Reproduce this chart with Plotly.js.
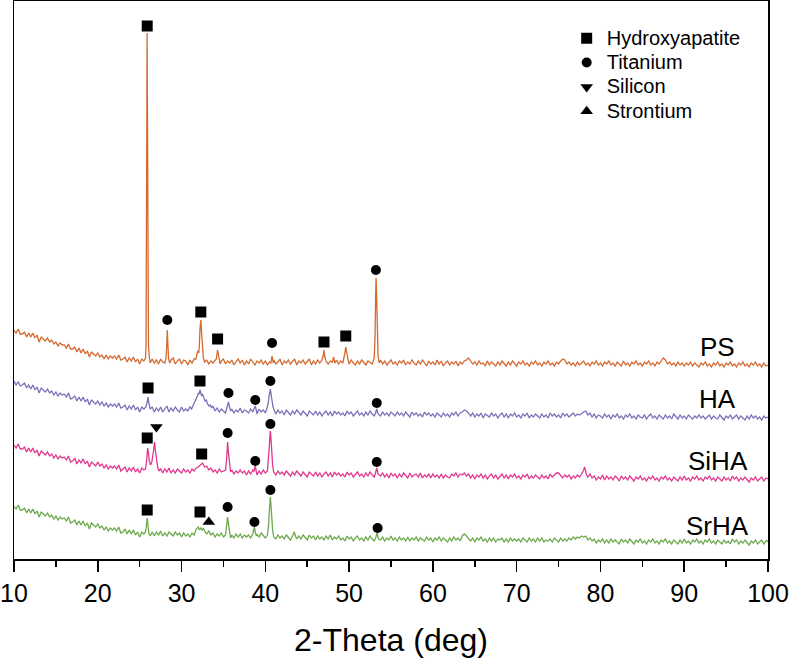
<!DOCTYPE html>
<html>
<head>
<meta charset="utf-8">
<script src="https://cdn.plot.ly/plotly-3.0.1.min.js"></script>
<style>html,body{margin:0;padding:0;background:#fff;}#chart{width:792px;height:662px;}</style>
</head>
<body>
<div id="chart"></div>
<script>
// ---------- DATA (intensity in arbitrary units, patterns offset-stacked) ----------
const seriesNames = ['PS', 'HA', 'SiHA', 'SrHA'];

const psPoints = [
[10,227],[10.25,224],[10.5,228],[10.75,223],[11,223],[11.25,225],[11.5,220],[11.75,224],[12,220],[12.25,224],[12.5,219],[12.75,222],
[13,215],[13.25,220],[13.5,218],[13.75,216],[14,219],[14.25,215],[14.5,217],[14.75,213],[15,215],[15.25,211],[15.5,214],[15.75,212],
[16,212],[16.25,209],[16.5,213],[16.75,208],[17,208],[17.25,210],[17.5,205],[17.75,209],[18,204],[18.25,208],[18.5,203],[18.75,206],
[19,200],[19.25,205],[19.5,203],[19.75,201],[20,204],[20.25,200],[20.5,202],[20.75,198],[21,202],[21.25,198],[21.5,201],[21.75,199],
[22,201],[22.25,198],[22.5,202],[22.75,197],[23,198],[23.25,200],[23.5,195],[23.75,199],[24,196],[24.25,200],[24.5,195],[24.75,198],
[25,193],[25.25,198],[25.5,196],
[25.6,197],[25.7,199],[25.76,212],[25.82,290],[25.86,450],[25.89,524],[25.93,450],[25.98,290],[26.05,212],[26.15,200],
[26.25,194],[26.5,198],[26.75,194],[27,197],[27.25,193],[27.5,198],[27.75,195],[28,194],
[28.15,199],[28.23,212],[28.3,227],[28.37,212],[28.45,198],[28.6,194],[28.75,197],
[29,199],[29.25,193],[29.5,196],[29.75,198],[30,193],[30.25,197],[30.5,196],[30.75,192],[31,197],[31.25,194],[31.5,198],
[31.7,198],[31.85,203],[31.95,206],[32.05,204],[32.12,211],[32.2,228],[32.3,237],[32.38,226],[32.47,208],[32.6,199],[32.75,195],
[33,197],[33.25,193],[33.5,196],[33.75,194],[34,197],[34.15,198],[34.3,207],[34.45,197],[34.6,193],[34.75,196],
[35,198],[35.25,193],[35.5,196],[35.75,194],[36,197],[36.25,192],[36.5,195],[36.75,198],[37,194],[37.25,197],[37.5,192],[37.75,196],
[38,193],[38.25,198],[38.5,195],[38.75,192],[39,196],[39.25,194],[39.5,197],[39.75,193],[40,196],[40.25,192],[40.5,195],
[40.65,194],[40.8,201],[40.95,194],[41,197],[41.25,193],[41.5,195],[41.75,198],[42,192],[42.25,196],[42.5,194],[42.75,197],
[43,193],[43.25,195],[43.5,198],[43.75,192],[44,196],[44.25,194],[44.5,197],[44.75,193],[45,195],[45.25,198],[45.5,192],[45.75,196],
[46,193],[46.25,197],[46.5,194],[46.75,197],[46.9,201],[47.0,207],[47.1,200],[47.25,196],[47.5,193],[47.75,196],
[48,195],[48.15,200],[48.3,194],[48.5,197],[48.75,193],[49,196],[49.25,194],[49.4,199],[49.5,204],[49.6,210],[49.7,204],[49.85,198],
[50,193],[50.25,197],[50.5,194],[50.75,192],[51,196],[51.25,193],[51.5,197],[51.75,194],[52,192],[52.25,196],[52.5,194],[52.75,193],
[53.0,199],[53.1,222],[53.17,262],[53.22,279],[53.28,262],[53.36,220],[53.46,200],[53.6,194],[53.75,197],
[54,193],[54.25,196],[54.5,192],[54.75,195],[55,197],[55.25,193],[55.5,195],[55.75,192],[56,196],[56.25,194],[56.5,197],[56.75,192],
[57,195],[57.25,193],[57.5,197],[57.75,194],[58,192],[58.25,196],[58.5,193],[58.75,197],[59,194],[59.25,191],[59.5,196],[59.75,193],
[60,195],[60.25,192],[60.5,197],[60.75,193],[61,196],[61.25,191],[61.5,194],[61.75,196],[62,192],[62.25,195],[62.5,193],[62.75,196],
[63,191],[63.25,195],[63.5,193],[63.75,196],[64,197],[64.25,199],[64.5,196],[64.75,193],[65,195],[65.25,192],[65.5,196],[65.75,193],
[66,194],[66.25,191],[66.5,196],[66.75,192],[67,195],[67.25,193],[67.5,191],[67.75,195],[68,192],[68.25,196],[68.5,193],[68.75,191],
[69,195],[69.25,192],[69.5,196],[69.75,193],[70,191],[70.25,195],[70.5,193],[70.75,196],[71,192],[71.25,194],[71.5,191],[71.75,195],
[72,193],[72.25,196],[72.5,192],[72.75,194],[73,191],[73.25,195],[73.5,193],[73.75,196],[74,192],[74.25,194],[74.5,191],[74.75,195],
[75,193],[75.25,196],[75.5,198],[75.75,197],[76,193],[76.25,195],[76.5,192],[76.75,194],[77,191],[77.25,195],[77.5,192],[77.75,194],
[78,196],[78.25,192],[78.5,194],[78.75,191],[79,195],[79.25,193],[79.5,196],[79.75,192],[80,194],[80.25,191],[80.5,195],[80.75,193],
[81,196],[81.25,192],[81.5,194],[81.75,191],[82,195],[82.25,193],[82.5,191],[82.75,196],[83,192],[83.25,194],[83.5,191],[83.75,195],
[84,193],[84.25,196],[84.5,192],[84.75,194],[85,191],[85.25,195],[85.5,193],[85.75,196],[86,192],[86.25,194],[86.5,191],[86.75,195],
[87,193],[87.25,196],[87.5,199],[87.75,197],[88,193],[88.25,195],[88.5,192],[88.75,194],[89,191],[89.25,195],[89.5,192],[89.75,194],
[90,191],[90.25,194],[90.5,192],[90.75,195],[91,191],[91.25,194],[91.5,192],[91.75,190],[92,194],[92.25,192],[92.5,195],[92.75,191],
[93,193],[93.25,190],[93.5,194],[93.75,192],[94,195],[94.25,191],[94.5,193],[94.75,190],[95,194],[95.25,192],[95.5,195],[95.75,191],
[96,193],[96.25,190],[96.5,194],[96.75,192],[97,195],[97.25,191],[97.5,193],[97.75,190],[98,194],[98.25,192],[98.5,195],[98.75,191],
[99,193],[99.25,190],[99.5,194],[99.75,191],[100,192]];

const haPoints = [
[10,176],[10.25,172],[10.5,175],[10.75,171],[11,172],[11.25,174],[11.5,169],[11.75,172],[12,168],[12.25,172],[12.5,167],[12.75,170],
[13,164],[13.25,169],[13.5,167],[13.75,165],[14,168],[14.25,164],[14.5,166],[14.75,162],[15,165],[15.25,161],[15.5,164],[15.75,162],
[16,163],[16.25,160],[16.5,164],[16.75,158],[17,159],[17.25,161],[17.5,156],[17.75,160],[18,156],[18.25,160],[18.5,155],[18.75,158],
[19,152],[19.25,157],[19.5,155],[19.75,153],[20,156],[20.25,152],[20.5,155],[20.75,151],[21,154],[21.25,150],[21.5,153],[21.75,151],
[22,153],[22.25,150],[22.5,154],[22.75,149],[23,150],[23.25,152],[23.5,147],[23.75,151],[24,148],[24.25,152],[24.5,147],[24.75,150],
[25,145],[25.25,150],[25.5,148],
[25.75,150],[25.9,155],[26.0,160],[26.1,154],[26.25,148],[26.5,150],[26.75,145],
[27,149],[27.25,146],[27.5,150],[27.75,145],[28,148],[28.25,151],[28.5,145],[28.75,149],[29,146],[29.25,150],[29.5,147],[29.75,145],
[30,150],[30.25,146],[30.5,148],[30.75,146],
[31,150],[31.2,148],[31.4,152],[31.6,155],[31.75,158],[31.9,161],[32.0,164],[32.1,163],[32.2,167],[32.3,164],[32.4,161],[32.5,163],
[32.65,158],[32.8,156],[32.95,157],[33.1,153],[33.3,151],[33.45,152],[33.6,149],[33.75,151],
[34,146],[34.25,149],[34.5,145],[34.75,148],[35,146],[35.25,144],[35.4,149],[35.5,152],[35.6,155],[35.7,151],[35.85,146],
[36,148],[36.25,144],[36.5,147],[36.75,145],[37,149],[37.25,144],[37.5,147],[37.75,146],[38,144],[38.25,148],[38.5,145],
[38.65,148],[38.8,151],[38.95,146],[39,143],[39.25,148],[39.5,145],[39.75,147],
[40,144],[40.2,149],[40.35,154],[40.45,161],[40.55,166],[40.6,168],[40.68,163],[40.78,157],[40.9,151],[41.05,147],
[41.25,143],[41.5,147],[41.75,144],[42,146],[42.25,142],[42.5,147],[42.75,144],[43,142],[43.25,146],[43.5,143],[43.75,147],
[44,145],[44.25,142],[44.5,146],[44.75,143],[45,141],[45.25,146],[45.5,144],[45.75,142],[46,146],[46.25,142],[46.5,145],[46.75,141],
[47,144],[47.25,146],[47.5,142],[47.75,145],[48,141],[48.25,146],[48.5,143],[48.75,145],[49,142],[49.25,144],[49.5,141],[49.75,146],
[50,143],[50.25,145],[50.5,141],[50.75,144],[51,146],[51.25,142],[51.5,144],[51.75,141],[52,145],[52.25,142],[52.5,146],[52.75,143],
[53,141],[53.15,144],[53.3,148],[53.45,143],[53.75,141],
[54,145],[54.25,142],[54.5,144],[54.75,141],[55,145],[55.25,143],[55.5,141],[55.75,145],[56,142],[56.25,144],[56.5,141],[56.75,145],
[57,143],[57.25,140],[57.5,145],[57.75,142],[58,144],[58.25,141],[58.5,143],[58.75,140],[59,145],[59.25,142],[59.5,144],[59.75,141],
[60,143],[60.25,140],[60.5,144],[60.75,142],[61,140],[61.25,144],[61.5,141],[61.75,143],[62,140],[62.25,144],[62.5,142],[62.75,145],
[63,141],[63.25,144],[63.5,145],[63.75,147],[64,146],[64.25,144],[64.5,141],[64.75,144],[65,140],[65.25,143],[65.5,141],[65.75,144],
[66,139],[66.25,143],[66.5,141],[66.75,140],[67,144],[67.25,141],[67.5,143],[67.75,139],[68,142],[68.25,144],[68.5,140],[68.75,143],
[69,139],[69.25,143],[69.5,141],[69.75,144],[70,140],[70.25,142],[70.5,139],[70.75,143],[71,141],[71.25,144],[71.5,139],[71.75,142],
[72,140],[72.25,143],[72.5,141],[72.75,139],[73,143],[73.25,140],[73.5,142],[73.75,139],[74,144],[74.25,141],[74.5,143],[74.75,140],
[75,142],[75.25,139],[75.5,144],[75.75,141],[76,143],[76.25,140],[76.5,142],[76.75,144],[77,141],[77.25,143],[77.5,142],[77.75,144],
[78,145],[78.25,146],[78.5,142],[78.75,144],[79,140],[79.25,143],[79.5,139],[79.75,142],[80,141],[80.25,139],[80.5,143],[80.75,140],
[81,142],[81.25,138],[81.5,142],[81.75,140],[82,143],[82.25,139],[82.5,141],[82.75,138],[83,142],[83.25,140],[83.5,143],[83.75,139],
[84,141],[84.25,138],[84.5,142],[84.75,140],[85,139],[85.25,142],[85.5,138],[85.75,141],[86,143],[86.25,139],[86.5,141],[86.75,138],
[87,142],[87.25,140],[87.5,138],[87.75,142],[88,139],[88.25,141],[88.5,138],[88.75,143],[89,140],[89.25,138],[89.5,142],[89.75,139],
[90,141],[90.25,138],[90.5,142],[90.75,140],[91,138],[91.25,141],[91.5,139],[91.75,142],[92,139],[92.25,141],[92.5,138],[92.75,140],
[93,142],[93.25,138],[93.5,141],[93.75,139],[94,138],[94.25,142],[94.5,140],[94.75,137],[95,141],[95.25,139],[95.5,142],[95.75,138],
[96,140],[96.25,142],[96.5,138],[96.75,141],[97,139],[97.25,137],[97.5,141],[97.75,138],[98,142],[98.25,139],[98.5,141],[98.75,138],
[99,140],[99.25,137],[99.5,141],[99.75,139],[100,140]];

const sihaPoints = [
[10,112],[10.25,109],[10.5,113],[10.75,108],[11,108],[11.25,110],[11.5,105],[11.75,109],[12,105],[12.25,109],[12.5,104],[12.75,107],
[13,101],[13.25,106],[13.5,104],[13.75,102],[14,105],[14.25,101],[14.5,103],[14.75,99],[15,102],[15.25,98],[15.5,101],[15.75,99],
[16,100],[16.25,97],[16.5,101],[16.75,95],[17,96],[17.25,99],[17.5,93],[17.75,97],[18,94],[18.25,98],[18.5,93],[18.75,96],
[19,90],[19.25,95],[19.5,93],[19.75,91],[20,95],[20.25,91],[20.5,93],[20.75,89],[21,92],[21.25,88],[21.5,91],[21.75,89],
[22,91],[22.25,88],[22.5,92],[22.75,86],[23,88],[23.25,90],[23.5,85],[23.75,89],[24,86],[24.25,90],[24.5,85],[24.75,88],
[25,84],[25.25,89],[25.5,87],
[25.7,88],[25.85,98],[25.95,109],[26.05,104],[26.15,96],[26.3,92],[26.45,95],[26.6,103],[26.72,112],[26.78,115],[26.88,106],[27.0,96],[27.15,90],[27.3,86],
[27.5,88],[27.75,84],[28,88],[28.25,85],[28.5,89],[28.75,84],[29,87],[29.25,84],[29.5,88],[29.75,86],
[30,84],[30.25,88],[30.5,85],[30.75,87],[31,84],[31.25,88],[31.5,86],[31.75,89],[32,90],[32.25,92],[32.5,94],[32.75,90],
[33,91],[33.25,87],[33.5,89],[33.75,85],[34,87],[34.25,84],[34.5,88],[34.75,85],[35,86],
[35.25,87],[35.4,100],[35.5,115],[35.6,104],[35.72,90],[35.85,85],
[36,87],[36.25,83],[36.5,86],[36.75,84],[37,87],[37.25,84],[37.5,86],[37.75,82],[38,86],[38.25,83],[38.5,87],
[38.65,86],[38.8,91],[38.95,85],[39,82],[39.25,86],[39.5,83],[39.75,87],
[40,84],[40.25,86],[40.38,97],[40.47,110],[40.55,122],[40.6,126],[40.67,119],[40.76,104],[40.87,92],[41.0,85],
[41.25,82],[41.5,86],[41.75,83],[42,85],[42.25,82],[42.5,86],[42.75,83],[43,81],[43.25,85],[43.5,82],[43.75,86],
[44,84],[44.25,81],[44.5,85],[44.75,82],[45,80],[45.25,85],[45.5,83],[45.75,81],[46,85],[46.25,81],[46.5,84],[46.75,80],
[47,83],[47.25,85],[47.5,81],[47.75,84],[48,80],[48.25,85],[48.5,82],[48.75,84],[49,81],[49.25,83],[49.5,80],[49.75,85],
[50,82],[50.25,84],[50.5,80],[50.75,83],[51,85],[51.25,81],[51.5,83],[51.75,80],[52,84],[52.25,81],[52.5,85],[52.75,82],
[53,80],[53.15,84],[53.3,89],[53.45,83],[53.75,81],
[54,84],[54.25,80],[54.5,83],[54.75,79],[55,84],[55.25,81],[55.5,83],[55.75,79],[56,83],[56.25,80],[56.5,84],[56.75,81],
[57,79],[57.25,84],[57.5,80],[57.75,82],[58,83],[58.25,80],[58.5,84],[58.75,79],[59,82],[59.25,80],[59.5,83],[59.75,79],
[60,83],[60.25,80],[60.5,82],[60.75,79],[61,83],[61.25,79],[61.5,82],[61.75,80],[62,79],[62.25,83],[62.5,81],[62.75,84],
[63,80],[63.25,83],[63.5,82],[63.75,84],[64,81],[64.25,83],[64.5,79],[64.75,82],[65,78],[65.25,82],[65.5,80],[65.75,83],
[66,79],[66.25,82],[66.5,78],[66.75,81],[67,83],[67.25,79],[67.5,82],[67.75,78],[68,81],[68.25,83],[68.5,79],[68.75,82],
[69,78],[69.25,82],[69.5,80],[69.75,83],[70,79],[70.25,81],[70.5,78],[70.75,82],[71,80],[71.25,83],[71.5,78],[71.75,81],
[72,79],[72.25,82],[72.5,80],[72.75,78],[73,82],[73.25,79],[73.5,81],[73.75,78],[74,83],[74.25,80],[74.5,82],[74.75,84],
[75,84],[75.25,81],[75.5,79],[75.75,82],[76,80],[76.25,82],[76.5,78],[76.75,81],[77,79],[77.25,82],[77.5,80],[77.75,83],
[77.9,85],[78.0,87],[78.1,90],[78.2,86],[78.35,82],[78.5,80],[78.75,83],
[79,79],[79.25,81],[79.5,77],[79.75,80],[80,78],[80.25,82],[80.5,77],[80.75,81],[81,78],[81.25,80],[81.5,77],[81.75,81],
[82,79],[82.25,76],[82.5,81],[82.75,78],[83,80],[83.25,77],[83.5,81],[83.75,78],[84,76],[84.25,80],[84.5,78],[84.75,81],
[85,77],[85.25,79],[85.5,76],[85.75,80],[86,78],[86.25,81],[86.5,77],[86.75,79],[87,76],[87.25,80],[87.5,78],[87.75,81],
[88,77],[88.25,79],[88.5,76],[88.75,80],[89,78],[89.25,76],[89.5,80],[89.75,77],[90,81],[90.25,77],[90.5,79],[90.75,76],
[91,80],[91.25,78],[91.5,81],[91.75,77],[92,79],[92.25,76],[92.5,80],[92.75,78],[93,81],[93.25,77],[93.5,79],[93.75,76],
[94,80],[94.25,78],[94.5,76],[94.75,80],[95,77],[95.25,79],[95.5,76],[95.75,81],[96,78],[96.25,80],[96.5,76],[96.75,79],
[97,77],[97.25,80],[97.5,78],[97.75,75],[98,79],[98.25,77],[98.5,80],[98.75,76],[99,78],[99.25,80],[99.5,76],[99.75,79],[100,78]];

const srhaPoints = [
[10,51],[10.25,48],[10.5,52],[10.75,47],[11,47],[11.25,49],[11.5,44],[11.75,48],[12,44],[12.25,48],[12.5,43],[12.75,46],
[13,40],[13.25,45],[13.5,43],[13.75,41],[14,44],[14.25,40],[14.5,42],[14.75,38],[15,41],[15.25,37],[15.5,40],[15.75,38],
[16,39],[16.25,36],[16.5,40],[16.75,34],[17,35],[17.25,37],[17.5,32],[17.75,36],[18,32],[18.25,36],[18.5,31],[18.75,34],
[19,28],[19.25,34],[19.5,32],[19.75,30],[20,33],[20.25,29],[20.5,31],[20.75,27],[21,30],[21.25,26],[21.5,29],[21.75,27],
[22,29],[22.25,26],[22.5,30],[22.75,24],[23,25],[23.25,28],[23.5,23],[23.75,27],[24,23],[24.25,27],[24.5,22],[24.75,25],
[25,20],[25.25,25],[25.5,23],
[25.7,25],[25.8,31],[25.9,39],[26.0,31],[26.12,23],[26.25,21],[26.5,25],[26.75,21],
[27,25],[27.25,22],[27.5,26],[27.75,21],[28,24],[28.25,21],[28.5,25],[28.75,23],[29,21],[29.25,25],[29.5,22],[29.75,24],
[30,20],[30.25,24],[30.5,21],[30.75,23],[31,20],[31.25,24],[31.5,22],[31.75,28],[32.0,30],[32.15,27],[32.3,29],[32.45,27],[32.6,29],[32.8,25],
[33,23],[33.25,26],[33.5,22],[33.75,24],[34,20],[34.25,23],[34.5,21],[34.75,24],[35,20],
[35.25,22],[35.38,30],[35.5,40],[35.6,33],[35.72,23],[35.85,19],
[36,22],[36.25,19],[36.5,23],[36.75,20],[37,23],[37.25,19],[37.5,22],[37.75,20],[38,22],[38.25,19],[38.5,23],
[38.6,26],[38.7,30],[38.82,24],[38.95,21],[39,23],[39.25,20],[39.5,24],[39.75,21],
[40,19],[40.25,22],[40.38,31],[40.47,45],[40.55,56],[40.6,60],[40.67,52],[40.76,40],[40.87,27],[41.0,20],
[41.25,18],[41.5,22],[41.75,19],[42,21],[42.25,18],[42.5,22],[42.75,19],[43,17],[43.25,21],[43.45,25],[43.6,21],[43.75,18],
[44,21],[44.25,18],[44.5,22],[44.75,19],[45,17],[45.25,22],[45.5,19],[45.75,21],[46,17],[46.25,21],[46.5,18],[46.75,20],
[47,17],[47.25,21],[47.5,18],[47.75,22],[48,17],[48.25,20],[48.5,18],[48.75,21],[49,17],[49.25,19],[49.5,16],[49.75,21],
[50,18],[50.25,20],[50.5,16],[50.75,19],[51,21],[51.25,17],[51.5,19],[51.75,16],[52,20],[52.25,17],[52.5,21],[52.75,18],
[53,16],[53.2,20],[53.35,24],[53.5,18],[53.75,17],
[54,20],[54.25,16],[54.5,19],[54.75,17],[55,21],[55.25,17],[55.5,19],[55.75,16],[56,20],[56.25,17],[56.5,19],[56.75,16],
[57,20],[57.25,16],[57.5,19],[57.75,17],[58,20],[58.25,16],[58.5,19],[58.75,17],[59,16],[59.25,20],[59.5,17],[59.75,19],
[60,15],[60.25,19],[60.5,17],[60.75,20],[61,16],[61.25,19],[61.5,17],[61.75,15],[62,19],[62.25,16],[62.5,20],[62.75,17],
[63,19],[63.25,16],[63.5,21],[63.75,23],[64,21],[64.25,18],[64.5,16],[64.75,19],[65,15],[65.25,19],[65.5,17],[65.75,20],
[66,16],[66.25,18],[66.5,15],[66.75,19],[67,16],[67.25,19],[67.5,15],[67.75,18],[68,17],[68.25,19],[68.5,15],[68.75,18],
[69,15],[69.25,19],[69.5,16],[69.75,18],[70,16],[70.25,18],[70.5,15],[70.75,19],[71,17],[71.25,15],[71.5,19],[71.75,16],
[72,18],[72.25,15],[72.5,19],[72.75,16],[73,19],[73.25,15],[73.5,17],[73.75,16],[74,18],[74.25,15],[74.5,19],[74.75,17],
[75,15],[75.25,19],[75.5,16],[75.75,18],[76,16],[76.25,19],[76.5,17],[76.75,20],[77,18],[77.25,20],[77.5,19],[77.75,21],
[78,20],[78.25,21],[78.5,17],[78.75,19],[79,16],[79.25,18],[79.5,14],[79.75,17],[80,15],[80.25,18],[80.5,14],[80.75,17],
[81,14],[81.25,18],[81.5,15],[81.75,17],[82,15],[82.25,13],[82.5,18],[82.75,15],[83,17],[83.25,14],[83.5,18],[83.75,15],
[84,13],[84.25,17],[84.5,15],[84.75,18],[85,14],[85.25,16],[85.5,13],[85.75,17],[86,15],[86.25,18],[86.5,14],[86.75,16],
[87,13],[87.25,17],[87.5,15],[87.75,18],[88,14],[88.25,16],[88.5,13],[88.75,17],[89,15],[89.25,13],[89.5,17],[89.75,14],
[90,18],[90.25,14],[90.5,16],[90.75,13],[91,17],[91.25,15],[91.5,18],[91.75,14],[92,16],[92.25,13],[92.5,17],[92.75,15],
[93,18],[93.25,14],[93.5,16],[93.75,13],[94,17],[94.25,15],[94.5,13],[94.75,17],[95,14],[95.25,16],[95.5,13],[95.75,18],
[96,15],[96.25,17],[96.5,13],[96.75,16],[97,14],[97.25,17],[97.5,15],[97.75,12],[98,16],[98.25,14],[98.5,17],[98.75,13],
[99,15],[99.25,17],[99.5,13],[99.75,16],[100,16]];

// phase identification markers (2-theta, height on the stacked scale)
const phaseNames = ['Hydroxyapatite', 'Titanium', 'Silicon', 'Strontium'];
const hydroxyX = [25.9, 32.3, 34.3, 47.0, 49.6, 26.0, 32.2, 25.9, 32.4, 25.9, 32.2];
const hydroxyY = [531, 245, 218, 215, 221, 169, 176, 119, 103, 47, 45];
const titaniumX = [28.3, 40.8, 53.2, 35.6, 38.8, 40.6, 53.3, 35.5, 38.8, 40.6, 53.3, 35.5, 38.7, 40.6, 53.4];
const titaniumY = [237, 214, 287, 164, 157, 176, 154, 124, 96, 133, 95, 50, 35, 67, 29];
const siliconX = [27.0];
const siliconY = [130];
const strontiumX = [33.25];
const strontiumY = [35];

const xTickVals = [10, 20, 30, 40, 50, 60, 70, 80, 90, 100];
const xTickText = ['10', '20', '30', '40', '50', '60', '70', '80', '90', '100'];

// ---------- STYLE ----------
const FONT = 'Liberation Sans, Arial, sans-serif';
const lineColors = ['#D5692F', '#7B70B8', '#E0378D', '#6BA94B'];
const seriesPoints = [psPoints, haPoints, sihaPoints, srhaPoints];
const labelPos = [{x: 94, y: 210}, {x: 94, y: 158}, {x: 94, y: 96}, {x: 94, y: 31}];

const traces = seriesPoints.map((pts, i) => ({
  type: 'scatter', mode: 'lines', name: seriesNames[i], showlegend: false,
  x: pts.map(p => p[0]), y: pts.map(p => p[1]),
  line: {color: lineColors[i], width: 1.3}, hoverinfo: 'skip'
}));

const phaseX = [hydroxyX, titaniumX, siliconX, strontiumX];
const phaseY = [hydroxyY, titaniumY, siliconY, strontiumY];
const phaseSymbols = ['square', 'circle', 'triangle-down', 'triangle-up'];
const phaseSizes = [11, 10, 11, 11];
phaseNames.forEach((nm, i) => {
  traces.push({
    type: 'scatter', mode: 'markers', name: '<span style="font-size:20px">' + nm + '</span>', showlegend: true,
    x: phaseX[i], y: phaseY[i],
    marker: {symbol: phaseSymbols[i], size: phaseSizes[i], color: '#000', line: {width: 0}},
    hoverinfo: 'skip'
  });
});

const annotations = seriesNames.map((nm, i) => ({
  x: labelPos[i].x, y: labelPos[i].y, xref: 'x', yref: 'y', text: nm, showarrow: false,
  xanchor: 'center', yanchor: 'middle', font: {family: FONT, size: 26, color: '#000'}
}));

const layout = {
  width: 792, height: 662,
  margin: {l: 14, r: 24, t: 1, b: 103},
  paper_bgcolor: '#fff', plot_bgcolor: '#fff',
  font: {family: FONT, color: '#000'},
  showlegend: true,
  legend: {
    x: 0.733, y: 0.964, xanchor: 'left', yanchor: 'top',
    bgcolor: 'rgba(0,0,0,0)', borderwidth: 0,
    font: {family: FONT, size: 16.4, color: '#000'}
  },
  xaxis: {
    range: [10, 100], tickmode: 'array', tickvals: xTickVals, ticktext: xTickText,
    ticks: 'outside', ticklen: 11, tickwidth: 1.5, tickcolor: '#000',
    ticklabeloverflow: 'allow',
    minor: {dtick: 5, tick0: 10, ticks: 'outside', ticklen: 6, tickwidth: 1.5, tickcolor: '#000', showgrid: false},
    showline: true, mirror: true, linecolor: '#000', linewidth: 1.5,
    showgrid: false, zeroline: false,
    tickfont: {family: FONT, size: 25, color: '#000'},
    title: {text: '2-Theta (deg)', font: {family: FONT, size: 32, color: '#000'}, standoff: 23}
  },
  yaxis: {
    range: [-2, 556], showticklabels: false, ticks: '',
    showline: true, mirror: true, linecolor: '#000', linewidth: 1.5,
    showgrid: false, zeroline: false
  },
  annotations: annotations
};

Plotly.newPlot('chart', traces, layout, {staticPlot: true, displayModeBar: false});
</script>
</body>
</html>
